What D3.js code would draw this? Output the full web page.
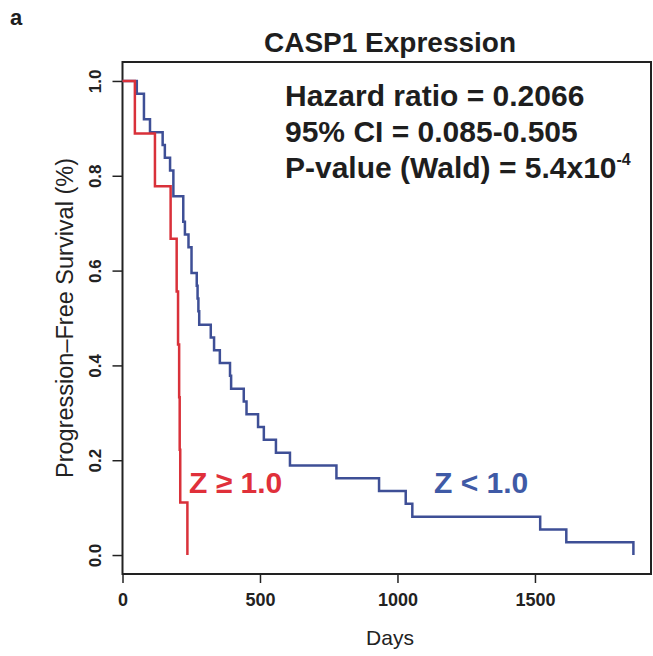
<!DOCTYPE html>
<html>
<head>
<meta charset="utf-8">
<script src="https://cdn.jsdelivr.net/npm/d3@7"></script>
<style>
  body { margin: 0; background: #fff; }
  svg { display: block; font-family: "Liberation Sans", Arial, sans-serif; }
</style>
</head>
<body>
<figure id="chart" style="margin:0"></figure>
<script>
// Kaplan-Meier steps (day, survival after the event)
var highDays = [0, 45, 118, 175, 197, 202, 206, 208, 210, 236];
var highSurv = [1.0, 0.889, 0.778, 0.667, 0.556, 0.444, 0.333, 0.222, 0.111, 0.0];

var lowDays = [0, 52, 78, 100, 146, 154, 173, 185, 221, 227, 240, 251, 270, 273, 276, 279,
    321, 333, 354, 391, 395, 441, 451, 493, 514, 558, 609, 778, 933, 1030, 1054, 1519, 1614, 1858];
var lowSurv = [1.0, 0.973, 0.919, 0.892, 0.865, 0.838, 0.811, 0.757, 0.703, 0.676, 0.649, 0.595, 0.568, 0.541, 0.514, 0.486,
    0.459, 0.432, 0.405, 0.378, 0.351, 0.324, 0.297, 0.270, 0.243, 0.216, 0.189, 0.162, 0.135, 0.108, 0.081, 0.054, 0.027, 0.0];

var xTicks = [0, 500, 1000, 1500];
var yTicks = [0.0, 0.2, 0.4, 0.6, 0.8, 1.0];
var statLines = ["Hazard ratio = 0.2066", "95% CI = 0.085-0.505", "P-value (Wald) = 5.4x10"];

let dimensions = {
    width: 653,
    height: 656,
    margin: { top: 62, right: 2, bottom: 82, left: 122.5 }
};
dimensions.boundedWidth = dimensions.width - dimensions.margin.left - dimensions.margin.right;
dimensions.boundedHeight = dimensions.height - dimensions.margin.top - dimensions.margin.bottom;

var red = "#d9313a";
var blue = "#3e4f96";

var root = d3.select("figure#chart")
    .append("svg")
    .attr("width", dimensions.width)
    .attr("height", dimensions.height);

var svg = root.append("g")
    .attr("transform", `translate(${dimensions.margin.left}, ${dimensions.margin.top})`);

var xScale = d3.scaleLinear()
    .domain([0, 1922])
    .range([0, dimensions.boundedWidth]);

var yScale = d3.scaleLinear()
    .domain([-0.04, 1.04])
    .range([dimensions.boundedHeight, 0]);

// axes (R style: ticks outside, labels rotated on y)
var xAxis = svg.append("g")
    .attr("transform", `translate(0, ${dimensions.boundedHeight})`)
    .call(d3.axisBottom(xScale).tickValues(xTicks).tickFormat(d3.format("d")).tickSize(9).tickPadding(10).tickSizeOuter(0));
xAxis.select(".domain").remove();
xAxis.selectAll("line").attr("stroke", "#222").attr("stroke-width", 1.5);
xAxis.selectAll("text")
    .attr("font-size", 18).attr("font-weight", "bold").attr("fill", "#222")
    .attr("font-family", "Liberation Sans, Arial, sans-serif");

var yAxis = svg.append("g")
    .call(d3.axisLeft(yScale).tickValues(yTicks).tickFormat(d3.format(".1f")).tickSize(10).tickSizeOuter(0));
yAxis.select(".domain").remove();
yAxis.selectAll("line").attr("stroke", "#222").attr("stroke-width", 1.5);
yAxis.selectAll("text")
    .attr("font-size", 17).attr("font-weight", "bold").attr("fill", "#222")
    .attr("font-family", "Liberation Sans, Arial, sans-serif")
    .attr("x", null).attr("dy", null)
    .attr("text-anchor", "middle")
    .attr("transform", "translate(-22,0) rotate(-90)");

// box
svg.append("rect")
    .attr("width", dimensions.boundedWidth)
    .attr("height", dimensions.boundedHeight)
    .attr("fill", "none")
    .attr("stroke", "#222")
    .attr("stroke-width", 2);

// survival curves
var line = d3.line()
    .x(d => xScale(d[0]))
    .y(d => yScale(d[1]))
    .curve(d3.curveStepAfter);

svg.append("path")
    .datum(lowDays.map((d, i) => [d, lowSurv[i]]))
    .attr("d", line)
    .attr("fill", "none")
    .attr("stroke", blue)
    .attr("stroke-width", 2.5);

svg.append("path")
    .datum(highDays.map((d, i) => [d, highSurv[i]]))
    .attr("d", line)
    .attr("fill", "none")
    .attr("stroke", red)
    .attr("stroke-width", 2.5);

// group labels
svg.append("text")
    .attr("x", xScale(242)).attr("y", yScale(0.13))
    .attr("font-size", 30).attr("font-weight", "bold").attr("fill", "#e0303a")
    .text("Z \u2265 1.0");

svg.append("text")
    .attr("x", xScale(1133)).attr("y", yScale(0.13))
    .attr("font-size", 30).attr("font-weight", "bold").attr("fill", "#3f5aa6")
    .text("Z < 1.0");

// stats block
var stats = root.append("g").attr("font-size", 30).attr("font-weight", "bold").attr("fill", "#1e1e1e");
statLines.forEach((s, i) => {
    var t = stats.append("text").attr("x", 285).attr("y", 106 + i * 36).text(s);
    if (i === 2) t.append("tspan").attr("font-size", 16).attr("dy", -13).text("-4");
});

// titles
root.append("text")
    .attr("x", 10).attr("y", 25)
    .attr("font-size", 22).attr("font-weight", "bold").attr("fill", "#1e1e1e")
    .text("a");

root.append("text")
    .attr("x", 390).attr("y", 52)
    .attr("text-anchor", "middle")
    .attr("font-size", 28).attr("font-weight", "bold").attr("fill", "#1e1e1e")
    .text("CASP1 Expression");

root.append("text")
    .attr("x", 390).attr("y", 645)
    .attr("text-anchor", "middle")
    .attr("font-size", 21).attr("fill", "#222")
    .text("Days");

root.append("text")
    .attr("transform", `translate(73, ${dimensions.margin.top + dimensions.boundedHeight / 2}) rotate(-90)`)
    .attr("text-anchor", "middle")
    .attr("font-size", 23.5).attr("fill", "#222")
    .text("Progression\u2013Free Survival (%)");
</script>
</body>
</html>
